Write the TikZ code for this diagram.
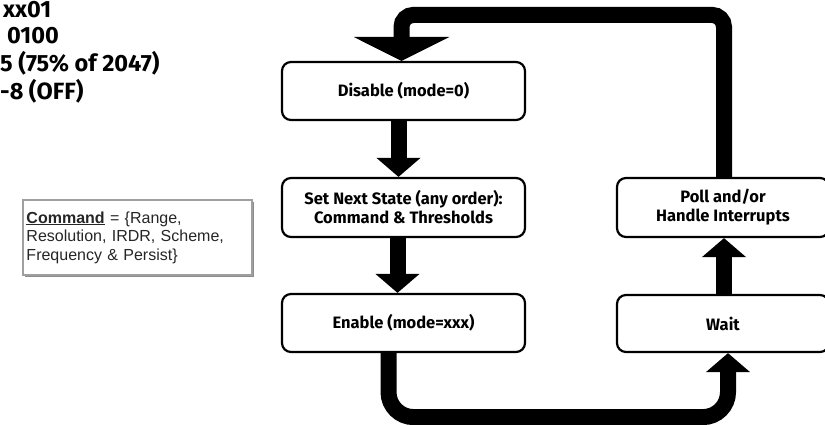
\documentclass[tikz,border=0pt]{standalone}
\usepackage{fontspec}
\setmainfont{Fira Sans}
\newfontfamily\arialfont{Liberation Sans}
\usetikzlibrary{arrows.meta,calc,shadows}
\begin{document}
\begin{tikzpicture}[x=1pt,y=-1pt,
  box/.style={draw=black, line width=2.2pt, rounded corners=9pt, fill=white,
    font=\bfseries\fontsize{16.5}{19}\selectfont, align=center, inner sep=0pt},
  shaft/.style={draw=black, line width=16pt},
  tipsmall/.style={-{Triangle[width=43pt,length=19pt]}},
  tipbig/.style={-{Triangle[width=95pt,length=24pt]}},
  note/.style={font=\bfseries\fontsize{23.5}{28}\selectfont, anchor=base west, inner sep=0pt},
  cmdbox/.style={draw=gray!75, line width=1.3pt, fill=white, inner sep=0pt,
    drop shadow={shadow xshift=1.5pt, shadow yshift=-1.5pt, opacity=0.45, fill=black},
    font=\arialfont\fontsize{16}{18.5}\selectfont, text=black!85, align=left}]
\useasboundingbox (0,0) rectangle (825,425);

% top-left clipped text
\node[note] (t1) at (3,17.5) {xx01};
\node[note] (t2) at (7,44) {0100};
\node[note] (t3) at (0,72) {5 (75\% of 2047)};
\node[note] (t4) at (0,100) {-8 (OFF)};

% command note
\node[cmdbox, minimum width=229pt, minimum height=75pt, text width=222pt] (cmd) at (137.5,237.5)
  {\underline{\textbf{Command}} = \{Range,\\Resolution, IRDR, Scheme,\\Frequency \& Persist\}};

% boxes
\node[box, minimum width=243pt, minimum height=58pt] (dis) at (403.5,91) {Disable (mode=0)};
\node[box, minimum width=243pt, minimum height=59pt] (set) at (403.5,207.5) {Set Next State (any order):\\Command \& Thresholds};
\node[box, minimum width=243pt, minimum height=58pt] (en) at (403.5,323) {Enable (mode=xxx)};
\node[box, minimum width=212pt, minimum height=59pt] (poll) at (723,207.5) {Poll and/or\\Handle Interrupts};
\node[box, minimum width=212pt, minimum height=57pt] (wait) at (723,323.5) {Wait};

% connectors
\draw[shaft, tipsmall] ($(dis.south)+(-5,0)$) -- ($(set.north)+(-5,0)$);
\draw[shaft, tipsmall] ($(set.south)+(-6,0)$) -- ($(en.north)+(-6,0)$);
\draw[shaft, tipsmall, rounded corners=25pt] ($(en.south)+(-15,0)$) -- ++(0,64) -| ($(wait.south)+(5,0)$);
\draw[shaft, tipsmall] ($(wait.north)+(1,0)$) -- ($(poll.south)+(1,0)$);
\draw[shaft, tipbig, rounded corners=12pt] ($(poll.north)+(1,0)$) -- ++(0,-162) -| ($(dis.north)+(-2,0)$);
\end{tikzpicture}
\end{document}
